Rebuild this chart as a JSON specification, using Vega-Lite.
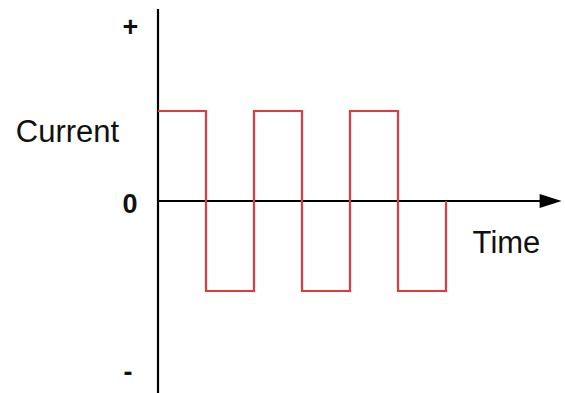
{
  "$schema": "https://vega.github.io/schema/vega-lite/v6.json",
  "width": 565,
  "height": 393,
  "autosize": "none",
  "padding": 0,
  "background": "white",
  "config": {"view": {"stroke": null}},
  "datasets": {
    "wave": [
      {"i": 0, "t": 0, "current": 1},
      {"i": 1, "t": 1, "current": 1},
      {"i": 2, "t": 1, "current": -1},
      {"i": 3, "t": 2, "current": -1},
      {"i": 4, "t": 2, "current": 1},
      {"i": 5, "t": 3, "current": 1},
      {"i": 6, "t": 3, "current": -1},
      {"i": 7, "t": 4, "current": -1},
      {"i": 8, "t": 4, "current": 1},
      {"i": 9, "t": 5, "current": 1},
      {"i": 10, "t": 5, "current": -1},
      {"i": 11, "t": 6, "current": -1},
      {"i": 12, "t": 6, "current": 0}
    ],
    "axes": [
      {"t": 0, "t2": 0, "c": 2.133, "c2": -2.2},
      {"t": 0, "t2": 8.0, "c": 0, "c2": 0}
    ],
    "arrow": [{"t": 8.18, "c": 0}],
    "signs": [
      {"text": "+", "t": -0.573, "c": 1.83},
      {"text": "0", "t": -0.583, "c": -0.133},
      {"text": "-", "t": -0.625, "c": -2.0}
    ],
    "names": [
      {"text": "Current", "t": -1.885, "c": 0.656},
      {"text": "Time", "t": 7.26, "c": -0.578}
    ]
  },
  "layer": [
    {
      "data": {"name": "axes"},
      "mark": {"type": "rule", "color": "#000000", "strokeWidth": 2.2},
      "encoding": {
        "x": {"field": "t", "type": "quantitative", "scale": {"domain": [-3.2917, 8.4792], "nice": false, "zero": false}, "axis": null},
        "x2": {"field": "t2"},
        "y": {"field": "c", "type": "quantitative", "scale": {"domain": [-2.1333, 2.2333], "nice": false, "zero": false}, "axis": null},
        "y2": {"field": "c2"}
      }
    },
    {
      "data": {"name": "arrow"},
      "mark": {"type": "point", "shape": "M-1,-0.64L1,0L-1,0.64Z", "size": 484, "filled": true, "color": "#000000", "opacity": 1},
      "encoding": {
        "x": {"field": "t", "type": "quantitative"},
        "y": {"field": "c", "type": "quantitative"}
      }
    },
    {
      "data": {"name": "wave"},
      "mark": {"type": "line", "color": "#e0393e", "strokeWidth": 2.2, "interpolate": "linear"},
      "encoding": {
        "x": {"field": "t", "type": "quantitative"},
        "y": {"field": "current", "type": "quantitative"},
        "order": {"field": "i", "type": "quantitative"}
      }
    },
    {
      "data": {"name": "signs"},
      "mark": {"type": "text", "font": "Liberation Sans", "fontSize": 27, "fontWeight": "bold", "align": "center", "baseline": "alphabetic", "color": "#111111"},
      "encoding": {
        "x": {"field": "t", "type": "quantitative"},
        "y": {"field": "c", "type": "quantitative"},
        "text": {"field": "text"}
      }
    },
    {
      "data": {"name": "names"},
      "mark": {"type": "text", "font": "Liberation Sans", "fontSize": 31, "align": "center", "baseline": "alphabetic", "color": "#111111"},
      "encoding": {
        "x": {"field": "t", "type": "quantitative"},
        "y": {"field": "c", "type": "quantitative"},
        "text": {"field": "text"}
      }
    }
  ]
}
